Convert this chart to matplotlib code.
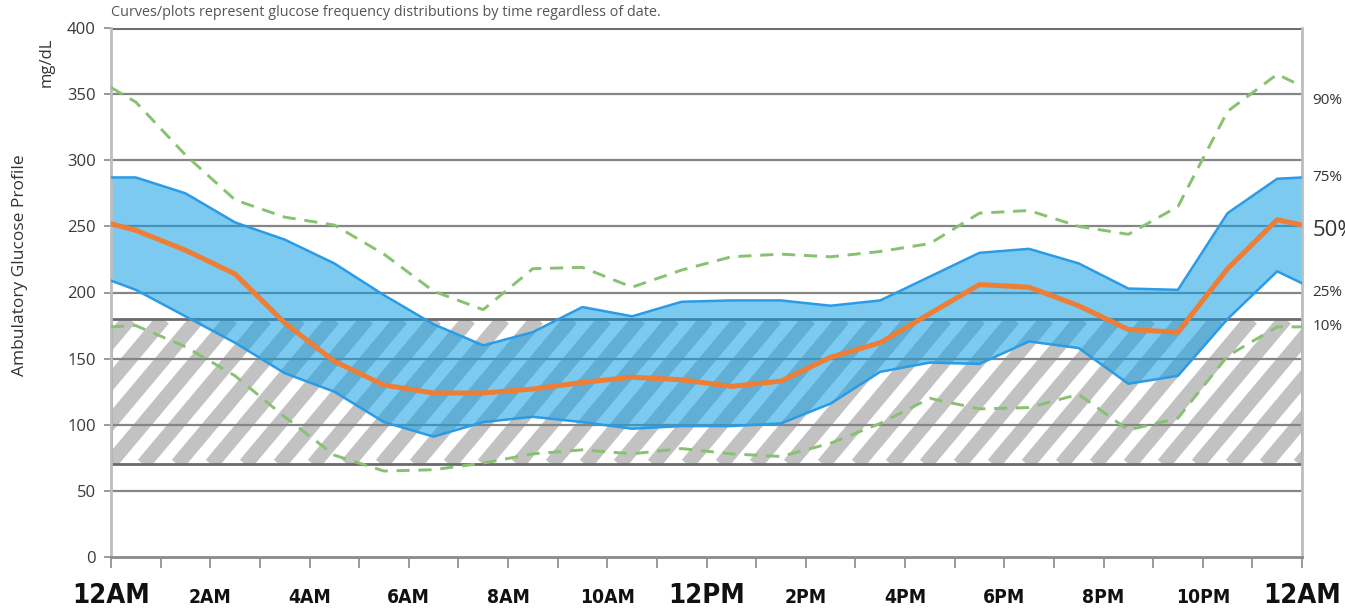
import numpy as np
import matplotlib.pyplot as plt
from matplotlib.patches import Rectangle
from matplotlib.transforms import blended_transform_factory

# profile points: midnight, every half hour bin, midnight again
hours = [0.0] + [h + 0.5 for h in range(24)] + [24.0]

p90 = [355, 344, 304, 270, 257, 251, 229, 201, 187, 218, 219, 204, 217, 227,
       229, 227, 231, 237, 260, 262, 250, 244, 265, 337, 365, 356]
p75 = [287, 287, 275, 253, 240, 222, 198, 176, 160, 170, 189, 182, 193, 194,
       194, 190, 194, 212, 230, 233, 222, 203, 202, 260, 286, 287]
p50 = [252, 247, 232, 214, 177, 148, 130, 124, 124, 127, 132, 136, 134, 129,
       133, 151, 162, 184, 206, 204, 190, 172, 170, 218, 255, 251]
p25 = [209, 202, 182, 162, 139, 125, 102, 91, 102, 106, 102, 97, 99, 99,
       101, 116, 140, 147, 146, 163, 158, 131, 137, 180, 216, 207]
p10 = [174, 175, 159, 137, 106, 77, 65, 66, 71, 78, 81, 78, 82, 78,
       76, 86, 101, 120, 112, 113, 123, 96, 105, 152, 174, 174]

target_low, target_high = 70, 180

time_labels = ["12AM", "2AM", "4AM", "6AM", "8AM", "10AM", "12PM",
               "2PM", "4PM", "6PM", "8PM", "10PM", "12AM"]
big_labels = {"12AM", "12PM"}

pct_labels = ["90%", "75%", "50%", "25%", "10%"]
pct_label_y = [345, 287, 247, 200, 174]

W, H = 1345, 608
plt.rcParams['font.family'] = ['Open Sans', 'DejaVu Sans']
fig = plt.figure(figsize=(W / 100, H / 100), dpi=100)
ax = fig.add_axes([111 / W, 1 - 557 / H, (1302 - 111) / W, (557 - 28) / H])
ax.set_xlim(0, 24)
ax.set_ylim(0, 400)

# horizontal grid
for v in range(50, 400, 50):
    ax.axhline(v, color="#858585", lw=1.6, zorder=1)
ax.axhline(400, color="#6e6e6e", lw=2.2, zorder=1)

# target range box with diagonal stripes
box = Rectangle((0, target_low), 24, target_high - target_low,
                facecolor="white", edgecolor="none", zorder=0.5)
ax.add_patch(box)
bb = ax.get_window_extent()
px_per_h = bb.width / 24
px_per_mg = bb.height / 400
angle = np.radians(50)
period_px = 34
rise_px = (target_high - target_low) * px_per_mg
run_h = rise_px / np.tan(angle) / px_per_h
stripe_w = period_px * np.sin(angle) * 0.55 * 72 / 100
x0 = -run_h - 1
while x0 < 24 + 1:
    ln, = ax.plot([x0, x0 + run_h], [target_low, target_high], color="#c2c2c2",
                  lw=stripe_w, solid_capstyle="butt", zorder=0.8)
    ln.set_clip_path(box)
    x0 += period_px / px_per_h
ax.add_patch(Rectangle((0, target_low), 24, target_high - target_low,
                       facecolor="none", edgecolor="#6a6a6a", lw=2, zorder=1.2))

# interquartile band and median
ax.fill_between(hours, p25, p75, color="#11a0e4", alpha=0.55, lw=0, zorder=2)
ax.plot(hours, p75, color="#2b9be6", lw=1.8, zorder=3)
ax.plot(hours, p25, color="#2b9be6", lw=1.8, zorder=3)
ax.plot(hours, p50, color="#ee7d35", lw=3.6, zorder=5)

# 10th / 90th percentile
ax.plot(hours, p90, color="#86c26f", lw=2.1, ls=(0, (4.5, 3)), zorder=4)
ax.plot(hours, p10, color="#86c26f", lw=2.1, ls=(0, (4.5, 3)), zorder=4)

# axes styling
for side in ["left", "right"]:
    ax.spines[side].set_color("#bdbdbd")
    ax.spines[side].set_linewidth(2)
ax.spines["top"].set_visible(False)
ax.spines["bottom"].set_color("#8a8a8a")
ax.spines["bottom"].set_linewidth(2)

ax.set_yticks(range(0, 401, 50))
ax.tick_params(axis="y", length=5, width=1.2, color="#8a8a8a", pad=6,
               labelsize=12, labelcolor="#3a3a3a")
ax.set_xticks(range(25))
ax.set_xticklabels([])
ax.tick_params(axis="x", length=8, width=1.2, color="#8a8a8a")

# time labels under the axis, sized to fit the narrow bold look
trans = blended_transform_factory(ax.transData, fig.transFigure)
renderer = fig.canvas.get_renderer()
time_texts = []
for i, lab in enumerate(time_labels):
    big = lab in big_labels
    t = ax.text(i * 2, 1 - 603 / H, lab, transform=trans, ha="center",
                va="baseline", fontsize=25 if big else 16, fontweight="bold",
                fontstretch="condensed",
                family=["Liberation Sans Narrow", "DejaVu Sans"], color="#111111")
    time_texts.append(t)
scale_big = 78 / time_texts[0].get_window_extent(renderer).width
scale_small = 43 / time_texts[1].get_window_extent(renderer).width
for t in time_texts:
    s = scale_big if t.get_text() in big_labels else scale_small
    t.set_fontsize(t.get_fontsize() * min(s, 1.0))

for lab, yv in zip(pct_labels, pct_label_y):
    ax.text(1.009, yv, lab, transform=ax.get_yaxis_transform(), ha="left",
            va="center", fontsize=16 if lab == "50%" else 11, color="#333333",
            clip_on=False)

fig.text(111 / W, 1 - 12 / H,
         "Curves/plots represent glucose frequency distributions by time regardless of date.",
         fontsize=10.4, color="#555555", va="center", ha="left")
fig.text(47 / W, 1 - 62 / H, "mg/dL", rotation=90, fontsize=12,
         color="#333333", ha="center", va="center")
fig.text(20 / W, 1 - 265 / H, "Ambulatory Glucose Profile", rotation=90,
         fontsize=12.5, color="#333333", ha="center", va="center")

fig.savefig("out.png", dpi=100)
